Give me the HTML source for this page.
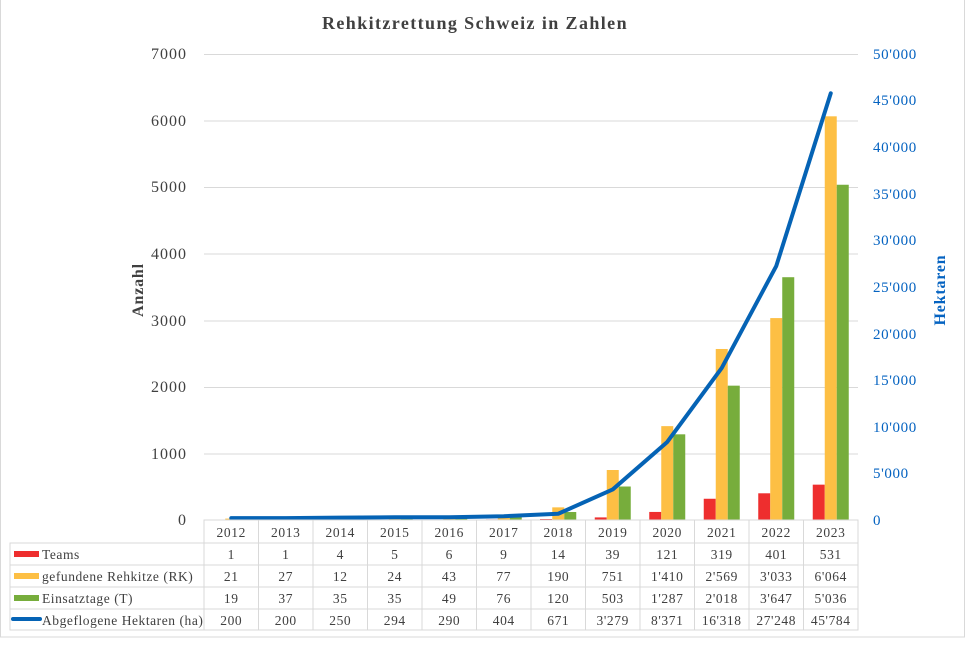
<!DOCTYPE html>
<html><head><meta charset="utf-8"><style>
html,body{margin:0;padding:0;background:#fff;}
svg{display:block;font-family:"Liberation Serif",serif;}
</style></head><body>
<svg width="974" height="647" viewBox="0 0 974 647" xmlns="http://www.w3.org/2000/svg">
<rect x="0.5" y="-2" width="964" height="639" fill="#fff" stroke="#d9d9d9"/>
<text x="475" y="29" text-anchor="middle" font-size="18" font-weight="bold" fill="#404040" letter-spacing="1.4">Rehkitzrettung Schweiz in Zahlen</text>
<g stroke="#d9d9d9" stroke-width="1">
<line x1="204" x2="858" y1="54.5" y2="54.5"/>
<line x1="204" x2="858" y1="121" y2="121"/>
<line x1="204" x2="858" y1="187.5" y2="187.5"/>
<line x1="204" x2="858" y1="254" y2="254"/>
<line x1="204" x2="858" y1="321" y2="321"/>
<line x1="204" x2="858" y1="387.5" y2="387.5"/>
<line x1="204" x2="858" y1="454" y2="454"/>
</g>
<g font-size="16" fill="#404040" text-anchor="end" letter-spacing="1">
<text x="187" y="59">7000</text><text x="187" y="126">6000</text><text x="187" y="192">5000</text>
<text x="187" y="259">4000</text><text x="187" y="326">3000</text><text x="187" y="392">2000</text>
<text x="187" y="459">1000</text><text x="187" y="525">0</text>
</g>
<g font-size="15" fill="#0563c1" letter-spacing="0.6">
<text x="873" y="59">50'000</text><text x="873" y="105">45'000</text><text x="873" y="152">40'000</text>
<text x="873" y="199">35'000</text><text x="873" y="245">30'000</text><text x="873" y="292">25'000</text>
<text x="873" y="339">20'000</text><text x="873" y="385">15'000</text><text x="873" y="432">10'000</text>
<text x="873" y="478">5'000</text><text x="873" y="525">0</text>
</g>
<text transform="translate(143,290) rotate(-90)" text-anchor="middle" font-size="16" font-weight="bold" fill="#404040" letter-spacing="0.8">Anzahl</text>
<text transform="translate(945,290) rotate(-90)" text-anchor="middle" font-size="16" font-weight="bold" fill="#0563c1" letter-spacing="0.8">Hektaren</text>

<g fill="#ee2e2e">
<rect x="486" y="519.4" width="12" height="0.6"/>
<rect x="540" y="519" width="12" height="1"/>
<rect x="594.75" y="517.4" width="12" height="2.6"/>
<rect x="649.25" y="511.94" width="12" height="8.06"/>
<rect x="703.75" y="498.76" width="12" height="21.24"/>
<rect x="758.25" y="493.3" width="12" height="26.7"/>
<rect x="812.75" y="484.65" width="12" height="35.35"/>
</g>
<g fill="#fdbf44">
<rect x="225.25" y="518.6" width="12" height="1.4"/>
<rect x="279.75" y="518.2" width="12" height="1.8"/>
<rect x="334.25" y="519.2" width="12" height="0.8"/>
<rect x="388.75" y="518.4" width="12" height="1.6"/>
<rect x="443.25" y="517.14" width="12" height="2.86"/>
<rect x="497.75" y="514.87" width="12" height="5.13"/>
<rect x="552.25" y="507.35" width="12" height="12.65"/>
<rect x="606.75" y="470" width="12" height="50"/>
<rect x="661.25" y="426.13" width="12" height="93.87"/>
<rect x="715.75" y="348.98" width="12" height="171.02"/>
<rect x="770.25" y="318.09" width="12" height="201.91"/>
<rect x="824.75" y="116.31" width="12" height="403.69"/>
</g>
<g fill="#77ad3c">
<rect x="237.25" y="518.74" width="12" height="1.26"/>
<rect x="291.75" y="517.54" width="12" height="2.46"/>
<rect x="346.25" y="517.67" width="12" height="2.33"/>
<rect x="400.75" y="517.67" width="12" height="2.33"/>
<rect x="455.25" y="516.74" width="12" height="3.26"/>
<rect x="509.75" y="514.94" width="12" height="5.06"/>
<rect x="564.25" y="512.01" width="12" height="7.99"/>
<rect x="618.75" y="486.51" width="12" height="33.49"/>
<rect x="673.25" y="434.32" width="12" height="85.68"/>
<rect x="727.75" y="385.66" width="12" height="134.34"/>
<rect x="782.25" y="277.21" width="12" height="242.79"/>
<rect x="836.75" y="184.75" width="12" height="335.25"/>
</g>
<polyline points="231.25,518.14 285.75,518.14 340.25,517.67 394.75,517.26 449.25,517.3 503.75,516.23 558.25,513.75 612.75,489.44 667.25,441.98 721.75,367.92 776.25,266.05 830.75,93.29" fill="none" stroke="#0563b5" stroke-width="4" stroke-linecap="round" stroke-linejoin="round"/>

<g stroke="#d9d9d9" fill="none">
<rect x="204" y="520" width="654" height="110"/>
<rect x="10" y="543" width="848" height="87"/>
<line x1="10" x2="858" y1="565" y2="565"/>
<line x1="10" x2="858" y1="587" y2="587"/>
<line x1="10" x2="858" y1="609" y2="609"/>
<line x1="258.5" x2="258.5" y1="520" y2="630"/>
<line x1="313" x2="313" y1="520" y2="630"/>
<line x1="367.5" x2="367.5" y1="520" y2="630"/>
<line x1="422" x2="422" y1="520" y2="630"/>
<line x1="476.5" x2="476.5" y1="520" y2="630"/>
<line x1="531" x2="531" y1="520" y2="630"/>
<line x1="585.5" x2="585.5" y1="520" y2="630"/>
<line x1="640" x2="640" y1="520" y2="630"/>
<line x1="694.5" x2="694.5" y1="520" y2="630"/>
<line x1="749" x2="749" y1="520" y2="630"/>
<line x1="803.5" x2="803.5" y1="520" y2="630"/>
</g>
<g font-size="13.5" fill="#404040" text-anchor="middle" letter-spacing="0.6">
<text y="537"><tspan x="231.25">2012</tspan><tspan x="285.75">2013</tspan><tspan x="340.25">2014</tspan><tspan x="394.75">2015</tspan><tspan x="449.25">2016</tspan><tspan x="503.75">2017</tspan><tspan x="558.25">2018</tspan><tspan x="612.75">2019</tspan><tspan x="667.25">2020</tspan><tspan x="721.75">2021</tspan><tspan x="776.25">2022</tspan><tspan x="830.75">2023</tspan></text>
<text y="559"><tspan x="231.25">1</tspan><tspan x="285.75">1</tspan><tspan x="340.25">4</tspan><tspan x="394.75">5</tspan><tspan x="449.25">6</tspan><tspan x="503.75">9</tspan><tspan x="558.25">14</tspan><tspan x="612.75">39</tspan><tspan x="667.25">121</tspan><tspan x="721.75">319</tspan><tspan x="776.25">401</tspan><tspan x="830.75">531</tspan></text>
<text y="581"><tspan x="231.25">21</tspan><tspan x="285.75">27</tspan><tspan x="340.25">12</tspan><tspan x="394.75">24</tspan><tspan x="449.25">43</tspan><tspan x="503.75">77</tspan><tspan x="558.25">190</tspan><tspan x="612.75">751</tspan><tspan x="667.25">1'410</tspan><tspan x="721.75">2'569</tspan><tspan x="776.25">3'033</tspan><tspan x="830.75">6'064</tspan></text>
<text y="603"><tspan x="231.25">19</tspan><tspan x="285.75">37</tspan><tspan x="340.25">35</tspan><tspan x="394.75">35</tspan><tspan x="449.25">49</tspan><tspan x="503.75">76</tspan><tspan x="558.25">120</tspan><tspan x="612.75">503</tspan><tspan x="667.25">1'287</tspan><tspan x="721.75">2'018</tspan><tspan x="776.25">3'647</tspan><tspan x="830.75">5'036</tspan></text>
<text y="625"><tspan x="231.25">200</tspan><tspan x="285.75">200</tspan><tspan x="340.25">250</tspan><tspan x="394.75">294</tspan><tspan x="449.25">290</tspan><tspan x="503.75">404</tspan><tspan x="558.25">671</tspan><tspan x="612.75">3'279</tspan><tspan x="667.25">8'371</tspan><tspan x="721.75">16'318</tspan><tspan x="776.25">27'248</tspan><tspan x="830.75">45'784</tspan></text>
</g>
<rect x="14" y="551" width="25" height="6" fill="#ee2e2e"/>
<rect x="14" y="573" width="25" height="6" fill="#fdbf44"/>
<rect x="14" y="595" width="25" height="6" fill="#77ad3c"/>
<line x1="13" x2="40" y1="619" y2="619" stroke="#0563b5" stroke-width="4" stroke-linecap="round"/>
<g font-size="13.5" fill="#404040" letter-spacing="0.55">
<text x="42" y="559">Teams</text>
<text x="42" y="581">gefundene Rehkitze (RK)</text>
<text x="42" y="603">Einsatztage (T)</text>
<text x="42" y="625">Abgeflogene Hektaren (ha)</text>
</g>
</svg>
</body></html>
